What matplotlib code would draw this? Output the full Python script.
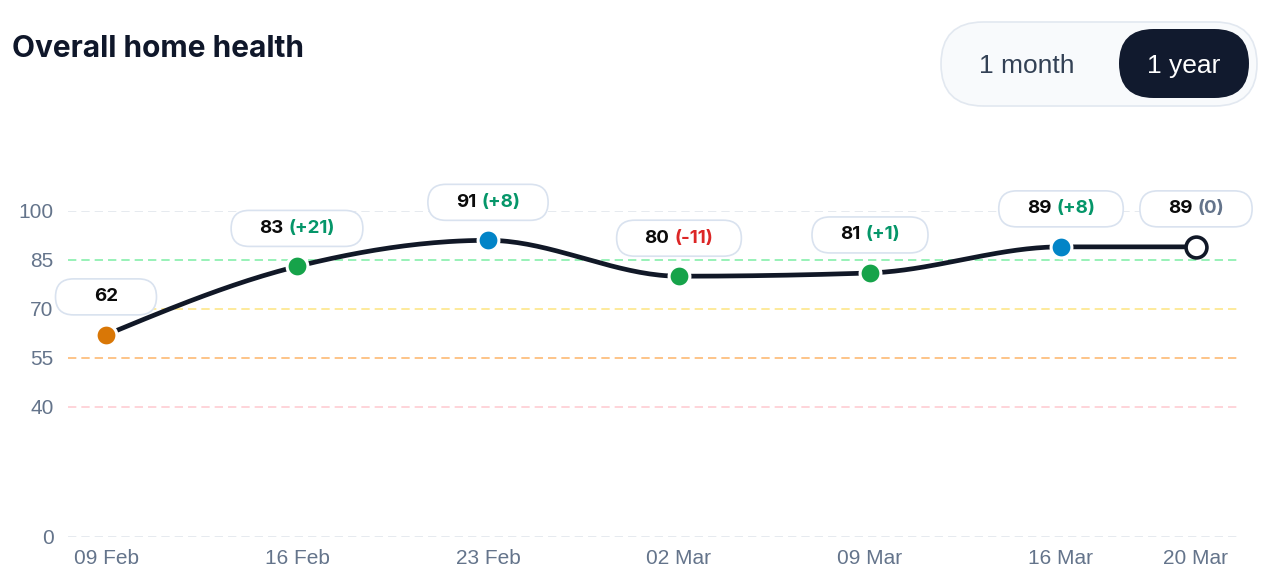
import matplotlib
matplotlib.use("Agg")
import matplotlib.pyplot as plt
import numpy as np
from matplotlib.patches import FancyBboxPatch
from matplotlib.transforms import IdentityTransform

# Data ------------------------------------------------------------------------------- #
dates = ["09 Feb", "16 Feb", "23 Feb", "02 Mar", "09 Mar", "16 Mar", "20 Mar"]
scores = [62, 83, 91, 80, 81, 89, 89]
deltas = [None, 21, 8, -11, 1, 8, 0]
dot_colors = ["#d97706", "#16a34a", "#0284c7", "#16a34a", "#16a34a", "#0284c7", "white"]

y_ticks = [0, 40, 55, 70, 85, 100]
band_lines = {100: "#e2e6ec", 85: "#86efac", 70: "#fde68a", 55: "#fdba74",
              40: "#fecdd3", 0: "#e2e6ec"}

NAVY = "#111827"
TICK = "#64748b"
W, H = 1264, 582


def monotone_x(xs, ys, n=40):
    # d3 curveMonotoneX style interpolation
    xs, ys = np.asarray(xs, float), np.asarray(ys, float)
    h = np.diff(xs)
    s = np.diff(ys) / h
    t = np.zeros(len(xs))
    for i in range(1, len(xs) - 1):
        p = (s[i - 1] * h[i] + s[i] * h[i - 1]) / (h[i - 1] + h[i])
        t[i] = (np.sign(s[i - 1]) + np.sign(s[i])) * min(
            abs(s[i - 1]), abs(s[i]), 0.5 * abs(p)
        )
    t[0] = (3 * s[0] - t[1]) / 2
    t[-1] = (3 * s[-1] - t[-2]) / 2
    px, py = [], []
    for i in range(len(xs) - 1):
        u = np.linspace(0, 1, n)
        h00 = 2 * u**3 - 3 * u**2 + 1
        h10 = u**3 - 2 * u**2 + u
        h01 = -2 * u**3 + 3 * u**2
        h11 = u**3 - u**2
        px.append(xs[i] + u * h[i])
        py.append(h00 * ys[i] + h10 * h[i] * t[i] + h01 * ys[i + 1] + h11 * h[i] * t[i + 1])
    return np.concatenate(px), np.concatenate(py)


# Layout: weekly points evenly spaced, last (partial week) point closer
xs = np.arange(len(dates), dtype=float)
xs[-1] = xs[-2] + 135 / 191

fig = plt.figure(figsize=(W / 100, H / 100), dpi=100)
ax = fig.add_axes([68 / W, (H - 537) / H, (1237 - 68) / W, 326 / H])
ax.set_xlim(-38 / 191, 1131 / 191)
ax.set_ylim(0, 100)
ax.patch.set_alpha(0)
for sp in ax.spines.values():
    sp.set_visible(False)

for level, col in band_lines.items():
    ax.axhline(level, color=col, lw=1.2, dashes=(5, 3), zorder=1)

cx, cy = monotone_x(xs, scores)
ax.plot(cx, cy, color=NAVY, lw=3.4, solid_capstyle="round", zorder=3)
for i in range(len(xs)):
    last = i == len(xs) - 1
    ax.plot(xs[i], scores[i], "o", ms=15, mfc=dot_colors[i],
            mec=NAVY if last else "white", mew=2.6 if last else 2.2, zorder=4)

ax.set_yticks(y_ticks)
ax.set_xticks(xs)
ax.set_xticklabels(dates)
ax.tick_params(length=0, labelcolor=TICK, labelsize=15)
ax.tick_params(axis="y", pad=10.5)
ax.tick_params(axis="x", pad=9)
for lab in ax.get_xticklabels() + ax.get_yticklabels():
    lab.set_family("Liberation Sans")

# Title
fig.text(12, H - 57, "Overall home health", transform=IdentityTransform(),
         fontsize=21.5, weight="bold", family="Inter", color="#0f172a", va="baseline")

# Point labels ----------------------------------------------------------------------- #
fig.canvas.draw()
renderer = fig.canvas.get_renderer()
ident = IdentityTransform()
for i in range(len(xs)):
    px, py = ax.transData.transform((xs[i], scores[i]))
    by = py + 38
    num = fig.text(0, 0, f"{scores[i]}", transform=ident, fontsize=13.5, weight="bold",
                   family="Inter", color="#0b0b0b", va="center", zorder=6)
    parts = [num]
    if deltas[i] is not None:
        d = deltas[i]
        dcol = "#059669" if d > 0 else ("#dc2626" if d < 0 else TICK)
        dtxt = f"(+{d})" if d > 0 else f"({d})"
        parts.append(fig.text(0, 0, dtxt, transform=ident, fontsize=13.5, weight="bold",
                              family="Inter", color=dcol, va="center", zorder=6))
    widths = [p.get_window_extent(renderer).width for p in parts]
    gap = 5
    total = sum(widths) + gap * (len(parts) - 1)
    x0 = px - total / 2
    for p, w in zip(parts, widths):
        p.set_position((x0, by))
        x0 += w + gap
    bw = max(101, total + 56)
    box = FancyBboxPatch((px - bw / 2, by - 18), bw, 36,
                         boxstyle="round,pad=0,rounding_size=18", transform=ident,
                         fc="white", ec="#d9e2ef", lw=1.2, zorder=5)
    fig.add_artist(box)

# Range toggle ----------------------------------------------------------------------- #
fig.add_artist(FancyBboxPatch((941, H - 106), 316, 84,
                              boxstyle="round,pad=0,rounding_size=42", transform=ident,
                              fc="#f8fafc", ec="#e2e8f0", lw=1.2, zorder=5))
fig.add_artist(FancyBboxPatch((1119, H - 98), 130, 69,
                              boxstyle="round,pad=0,rounding_size=34.5", transform=ident,
                              fc="#111a2e", ec="none", zorder=6))
fig.text(1027, H - 66, "1 month", transform=ident, fontsize=19, family="Liberation Sans",
         color="#334155", ha="center", va="center", zorder=7)
fig.text(1184, H - 66, "1 year", transform=ident, fontsize=19, family="Liberation Sans",
         color="white", ha="center", va="center", zorder=7)

fig.savefig("out.png", dpi=100)
